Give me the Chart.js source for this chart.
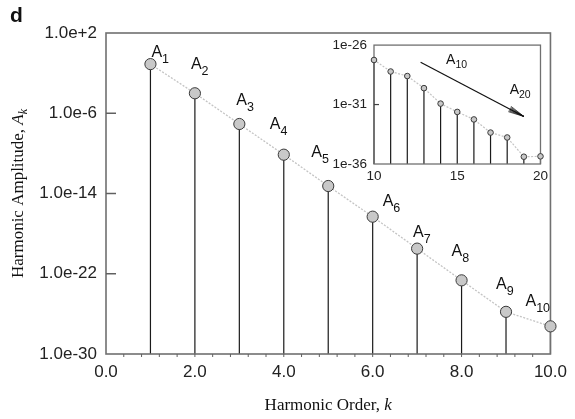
<!DOCTYPE html>
<html>
<head>
<meta charset="utf-8">
<script src="https://cdn.jsdelivr.net/npm/chart.js@4"></script>
<style>
  html, body { margin: 0; padding: 0; background: #fff; }
  #wrap { position: relative; width: 575px; height: 419px; }
  #mainChart { position: absolute; left: 0; top: 0; }
  #insetChart { position: absolute; left: 318px; top: 30px; }
</style>
</head>
<body>
<div id="wrap">
  <canvas id="mainChart" width="575" height="419"></canvas>
  <canvas id="insetChart" width="234" height="155"></canvas>
</div>
<script>
// main panel: harmonics 1..10
const orders = [1, 2, 3, 4, 5, 6, 7, 8, 9, 10];
const amplitudes = [7.9e-2, 9.8e-5, 8.5e-8, 7.4e-11, 5.6e-14, 4.9e-17, 3.2e-20, 2.2e-23, 1.6e-26, 5.7e-28];
const xTicks = [0, 2, 4, 6, 8, 10];
const yTicks = [1e2, 1e-6, 1e-14, 1e-22, 1e-30];

// inset: harmonics 10..20
const insetOrders = [10, 11, 12, 13, 14, 15, 16, 17, 18, 19, 20];
const insetAmplitudes = [5.6e-28, 6e-29, 2.5e-29, 2.4e-30, 1.2e-31, 2.4e-32, 5.6e-33, 4.4e-34, 1.7e-34, 4.1e-36, 4.4e-36];
const insetXTicks = [10, 15, 20];
const insetYTicks = [1e-26, 1e-31, 1e-36];

// where each A_k label sits relative to its marker (px)
const labelOffsets = [[1, -7], [-4, -24], [-3, -19], [-14, -26], [-17, -29], [10, -11], [-4, -12], [-10, -24], [-10, -23], [-25, -20]];

const SANS = "'Liberation Sans', Arial, sans-serif";
const SERIF = "'Liberation Serif', 'Times New Roman', serif";

function subLabel(ctx, x, y, main, sub, size, subSize, drop, italic) {
    ctx.font = (italic ? "italic " : "") + size + "px " + (italic ? SERIF : SANS);
    ctx.fillText(main, x, y);
    const w = ctx.measureText(main).width;
    ctx.font = (italic ? "italic " : "") + subSize + "px " + (italic ? SERIF : SANS);
    ctx.fillText(sub, x + w, y + drop);
}

function drawFrame(chart, width) {
    const ctx = chart.ctx, a = chart.chartArea;
    ctx.save();
    ctx.strokeStyle = "#707070";
    ctx.lineWidth = width;
    ctx.strokeRect(a.left, a.top, a.right - a.left, a.bottom - a.top);
    ctx.restore();
}

function drawStems(chart) {
    const ctx = chart.ctx, a = chart.chartArea;
    const x = chart.scales.x, y = chart.scales.y;
    ctx.save();
    ctx.strokeStyle = "#1a1a1a";
    ctx.lineWidth = 1.2;
    chart.data.datasets[0].data.forEach(function(p) {
        const px = x.getPixelForValue(p.x);
        ctx.beginPath();
        ctx.moveTo(px, y.getPixelForValue(p.y));
        ctx.lineTo(px, a.bottom);
        ctx.stroke();
    });
    ctx.restore();
}

const mainDeco = {
    id: "mainDeco",
    beforeDatasetsDraw(chart) {
        const ctx = chart.ctx, a = chart.chartArea;
        const x = chart.scales.x, y = chart.scales.y;
        drawStems(chart);
        drawFrame(chart, 1.6);
        ctx.save();
        ctx.strokeStyle = "#606060";
        ctx.lineWidth = 1.5;
        // inward major ticks on y
        yTicks.forEach(function(v) {
            const py = y.getPixelForValue(v);
            if (py <= a.top + 1 || py >= a.bottom - 1) return;
            ctx.beginPath(); ctx.moveTo(a.left, py); ctx.lineTo(a.left + 10, py); ctx.stroke();
        });
        // small ticks along the bottom
        ctx.lineWidth = 1;
        for (let k = 0.4; k < 10; k += 0.4) {
            const px = x.getPixelForValue(k);
            ctx.beginPath(); ctx.moveTo(px, a.bottom); ctx.lineTo(px, a.bottom + 3); ctx.stroke();
        }
        ctx.restore();
    },
    afterDatasetsDraw(chart) {
        const ctx = chart.ctx, a = chart.chartArea;
        const x = chart.scales.x, y = chart.scales.y;
        ctx.save();
        ctx.fillStyle = "#111";
        ctx.textBaseline = "alphabetic";
        ctx.textAlign = "left";
        orders.forEach(function(k, i) {
            const px = x.getPixelForValue(k), py = y.getPixelForValue(amplitudes[i]);
            subLabel(ctx, px + labelOffsets[i][0], py + labelOffsets[i][1], "A", String(k), 16, 12.5, 6, false);
        });

        // panel letter
        ctx.font = "bold 21px " + SANS;
        ctx.fillText("d", 10, 22);

        // x title
        ctx.font = "17px " + SERIF;
        const t1 = "Harmonic Order, ";
        const w1 = ctx.measureText(t1).width;
        ctx.font = "italic 17px " + SERIF;
        const w2 = ctx.measureText("k").width;
        const cx = (a.left + a.right) / 2;
        let sx = cx - (w1 + w2) / 2;
        ctx.font = "17px " + SERIF;
        ctx.fillText(t1, sx, 410);
        ctx.font = "italic 17px " + SERIF;
        ctx.fillText("k", sx + w1, 410);

        // y title, rotated
        ctx.translate(23, (a.top + a.bottom) / 2);
        ctx.rotate(-Math.PI / 2);
        ctx.font = "17px " + SERIF;
        const t3 = "Harmonic Amplitude, ";
        const w3 = ctx.measureText(t3).width;
        ctx.font = "italic 17px " + SERIF;
        const w4 = ctx.measureText("A").width;
        ctx.font = "italic 12px " + SERIF;
        const w5 = ctx.measureText("k").width;
        sx = -(w3 + w4 + w5) / 2;
        ctx.font = "17px " + SERIF;
        ctx.fillText(t3, sx, 0);
        subLabel(ctx, sx + w3, 0, "A", "k", 17, 12, 4, true);
        ctx.restore();
    }
};

const insetDeco = {
    id: "insetDeco",
    beforeDatasetsDraw(chart) {
        const ctx = chart.ctx, a = chart.chartArea;
        const y = chart.scales.y;
        drawStems(chart);
        drawFrame(chart, 1.3);
        ctx.save();
        ctx.strokeStyle = "#404040";
        ctx.lineWidth = 1.2;
        insetYTicks.forEach(function(v) {
            const py = y.getPixelForValue(v);
            if (py <= a.top + 1 || py >= a.bottom - 1) return;
            ctx.beginPath(); ctx.moveTo(a.left, py); ctx.lineTo(a.left + 5, py); ctx.stroke();
        });
        ctx.restore();
    },
    afterDatasetsDraw(chart) {
        const ctx = chart.ctx;
        const x = chart.scales.x, y = chart.scales.y;
        // decay arrow from A10 towards A20
        const x0 = x.getPixelForValue(12.8), y0 = y.getPixelForValue(3.6e-28);
        const x1 = x.getPixelForValue(19.0), y1 = y.getPixelForValue(1e-32);
        const ang = Math.atan2(y1 - y0, x1 - x0);
        ctx.save();
        ctx.strokeStyle = "#111";
        ctx.lineWidth = 1.2;
        ctx.beginPath(); ctx.moveTo(x0, y0); ctx.lineTo(x1, y1); ctx.stroke();
        ctx.lineWidth = 0.7;
        for (let s = -3; s <= 3; s++) {
            const bx = x1 - 16 * Math.cos(ang) - s * Math.sin(ang);
            const by = y1 - 16 * Math.sin(ang) + s * Math.cos(ang);
            ctx.beginPath(); ctx.moveTo(bx, by); ctx.lineTo(x1, y1); ctx.stroke();
        }
        ctx.fillStyle = "#111";
        ctx.textAlign = "left";
        subLabel(ctx, x.getPixelForValue(14.33), y.getPixelForValue(2.6e-28), "A", "10", 14, 10.5, 4, false);
        subLabel(ctx, x.getPixelForValue(18.15), y.getPixelForValue(8.3e-31), "A", "20", 14, 10.5, 4, false);
        ctx.restore();
    }
};

function fixedTicks(list) {
    return function(scale) { scale.ticks = list.map(function(v) { return { value: v }; }); };
}

new Chart(document.getElementById("mainChart").getContext("2d"), {
    type: "line",
    data: {
        datasets: [{
            data: orders.map(function(k, i) { return { x: k, y: amplitudes[i] }; }),
            borderColor: "#c4c4c4",
            borderWidth: 1.3,
            borderDash: [2, 1.5],
            pointRadius: 5.6,
            pointBackgroundColor: "#c8c8c8",
            pointBorderColor: "#3a3a3a",
            pointBorderWidth: 1,
            clip: false
        }]
    },
    options: {
        responsive: false,
        animation: false,
        devicePixelRatio: 1,
        layout: { padding: { left: 0, top: 33, right: 23, bottom: 0 } },
        plugins: { legend: { display: false }, tooltip: { enabled: false } },
        scales: {
            x: {
                type: "linear", min: 0, max: 10,
                afterBuildTicks: fixedTicks(xTicks),
                afterFit: function(s) { s.height = 65; },
                grid: { display: false, drawTicks: false },
                border: { display: false },
                ticks: {
                    padding: 8, color: "#222", maxRotation: 0,
                    font: { family: SANS, size: 17 },
                    callback: function(v) { return v.toFixed(1); }
                }
            },
            y: {
                type: "logarithmic", min: 1e-30, max: 1e2,
                afterBuildTicks: fixedTicks(yTicks),
                afterFit: function(s) { s.width = 106; },
                grid: { display: false, drawTicks: false },
                border: { display: false },
                ticks: {
                    padding: 9, color: "#222",
                    font: { family: SANS, size: 17 },
                    callback: function(v) {
                        const e = Math.round(Math.log10(v));
                        return "1.0e" + (e >= 0 ? "+" : "") + e;
                    }
                }
            }
        }
    },
    plugins: [mainDeco]
});

new Chart(document.getElementById("insetChart").getContext("2d"), {
    type: "line",
    data: {
        datasets: [{
            data: insetOrders.map(function(k, i) { return { x: k, y: insetAmplitudes[i] }; }),
            borderColor: "#c4c4c4",
            borderWidth: 1.2,
            borderDash: [2, 1.5],
            pointRadius: 2.8,
            pointBackgroundColor: "#c8c8c8",
            pointBorderColor: "#3a3a3a",
            pointBorderWidth: 1,
            clip: false
        }]
    },
    options: {
        responsive: false,
        animation: false,
        devicePixelRatio: 1,
        layout: { padding: { left: 0, top: 14, right: 10, bottom: 0 } },
        plugins: { legend: { display: false }, tooltip: { enabled: false } },
        scales: {
            x: {
                type: "linear", min: 10, max: 20,
                afterBuildTicks: fixedTicks(insetXTicks),
                afterFit: function(s) { s.height = 21; },
                grid: { display: false, drawTicks: false },
                border: { display: false },
                ticks: { padding: 4, color: "#222", maxRotation: 0, font: { family: SANS, size: 13.5 } }
            },
            y: {
                type: "logarithmic", min: 1e-36, max: 1e-26,
                afterBuildTicks: fixedTicks(insetYTicks),
                afterFit: function(s) { s.width = 56; },
                grid: { display: false, drawTicks: false },
                border: { display: false },
                ticks: {
                    padding: 7, color: "#222",
                    font: { family: SANS, size: 13.5 },
                    callback: function(v) { return "1e" + Math.round(Math.log10(v)); }
                }
            }
        }
    },
    plugins: [insetDeco]
});
</script>
</body>
</html>
